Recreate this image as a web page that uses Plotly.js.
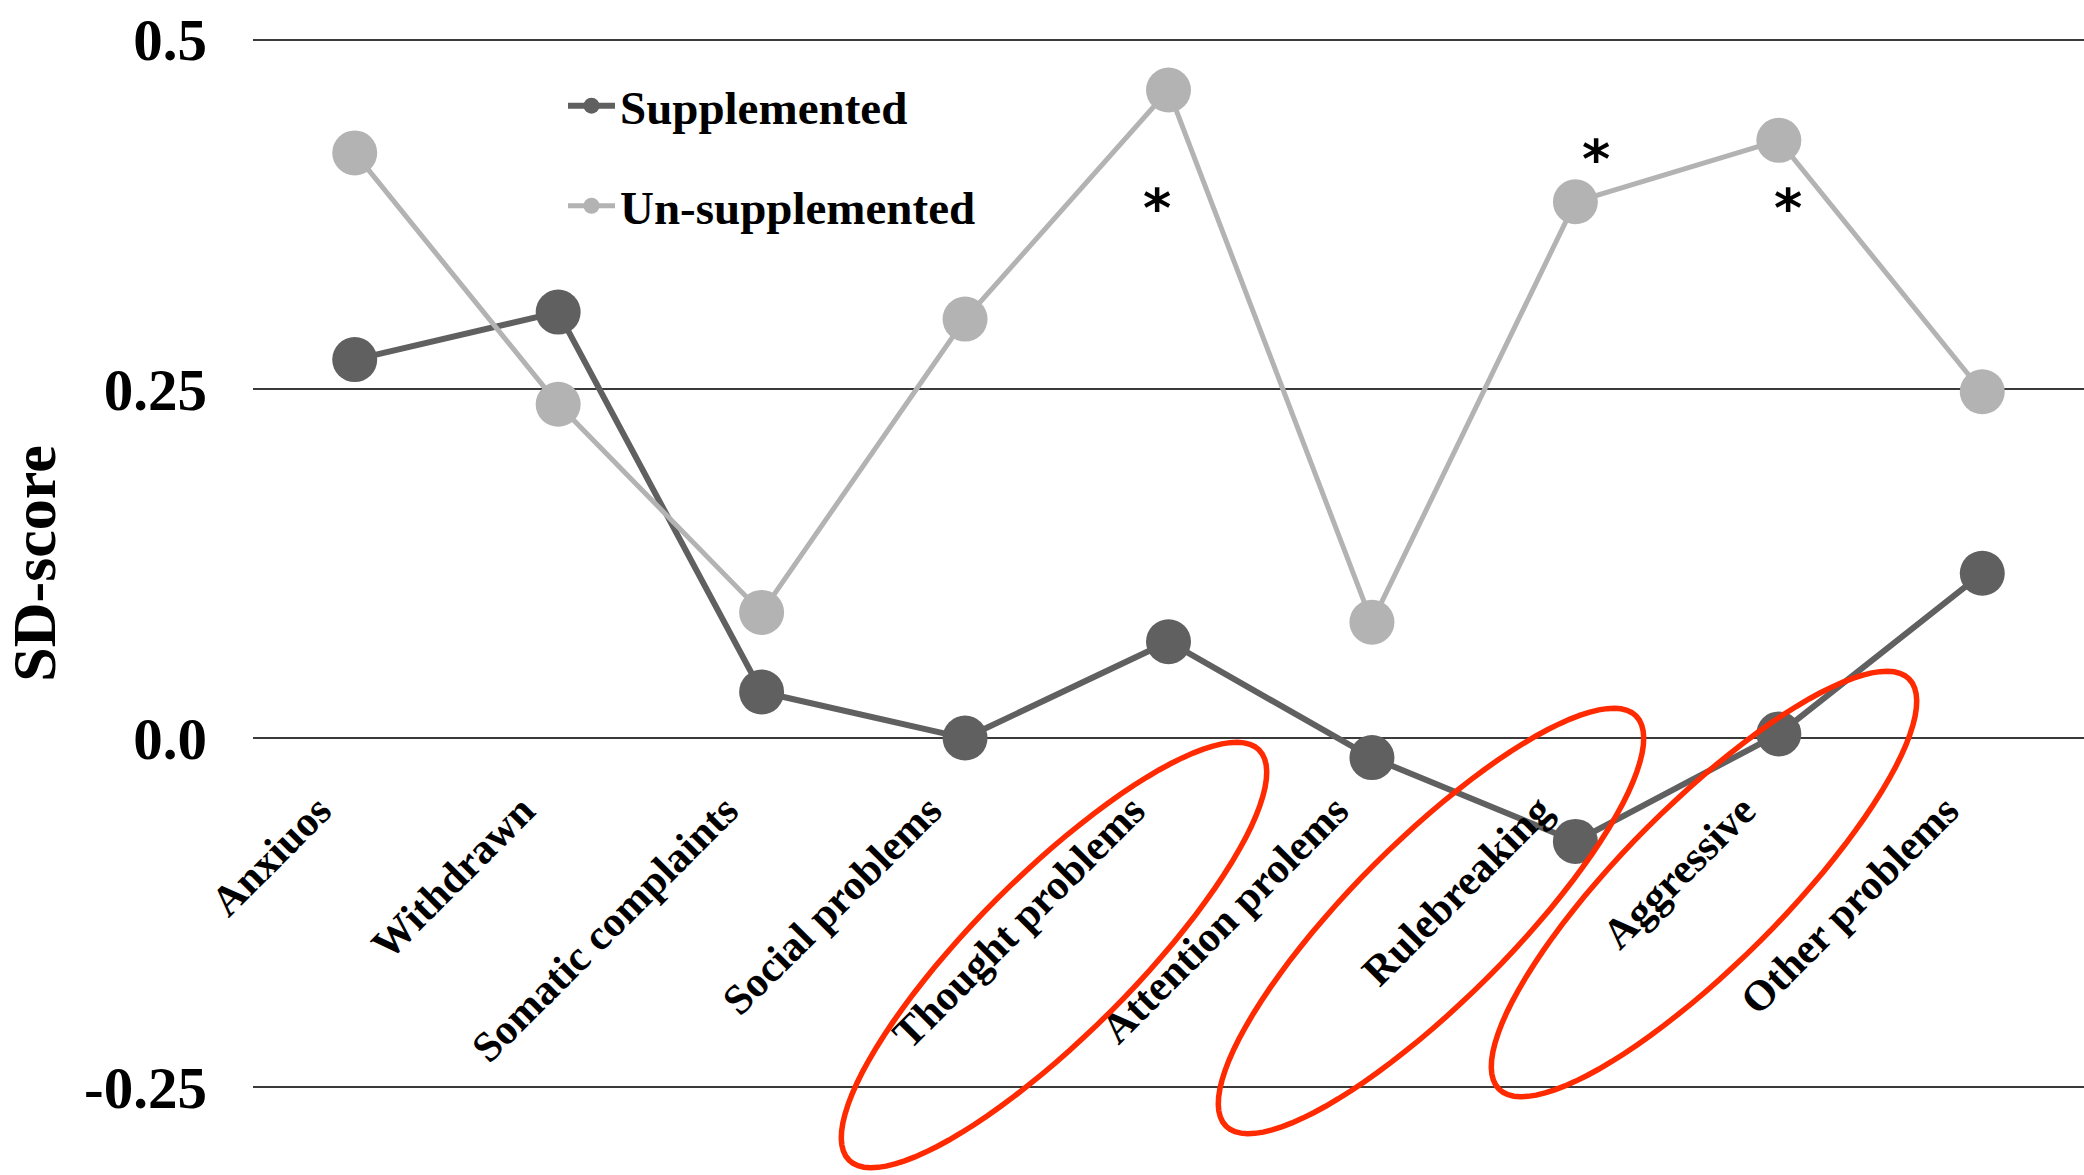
<!DOCTYPE html>
<html><head><meta charset="utf-8">
<script src="https://cdn.plot.ly/plotly-3.0.1.min.js"></script>
<style>html,body{margin:0;padding:0;background:#fff}#chart{width:2084px;height:1175px}</style>
</head><body><div id="chart"></div>
<script>
// ---- data ----
const categories = ["Anxiuos","Withdrawn","Somatic complaints","Social problems","Thought problems","Attention prolems","Rulebreaking","Aggressive","Other problems"];
const supplemented   = [0.271, 0.305, 0.033, 0.000, 0.069, -0.014, -0.074, 0.003, 0.118];
const unsupplemented = [0.419, 0.239, 0.090, 0.300, 0.464,  0.083,  0.384, 0.428, 0.248];
const yTickVals = [-0.25, 0, 0.25, 0.5];
const yTickText = ["-0.25", "0.0", "0.25", "0.5"];
const sigCategories = ["Thought problems", "Rulebreaking", "Aggressive"];
const sigLabels = ["*", "*", "*"];

// ---- layout / style ----
const W = 2084, H = 1175;
const M = {l: 253, r: 0, t: 37, b: 85};
const PW = W - M.l - M.r, PH = H - M.t - M.b;
const yRange = [-0.252, 0.502];
const FONT = "Liberation Serif, Times New Roman, serif";
const DARK = "#606060", LIGHT = "#b3b3b3", GRID = "#3a3a3a", RED = "#ff2a00";

// asterisk placement (style: pixel shift along x, height in value units)
const sigPlacement = [{dx: -12, y: 0.379}, {dx: 21, y: 0.414}, {dx: 9, y: 0.379}];
// hand-drawn highlight ellipses (pixel centre, semi axes, angle)
const ellipses = [
  {cx: 1054, cy: 955, a: 290, b: 80, deg: 45},
  {cx: 1431, cy: 921, a: 290, b: 80, deg: 45},
  {cx: 1704, cy: 884, a: 290, b: 80, deg: 45}
];
function ellipsePath(e) {
  const th = e.deg * Math.PI / 180, pts = [];
  for (let i = 0; i <= 96; i++) {
    const t = i / 96 * 2 * Math.PI;
    const ex = e.a * Math.cos(t), ey = e.b * Math.sin(t);
    const px = e.cx + ex * Math.cos(th) + ey * Math.sin(th);
    const py = e.cy - ex * Math.sin(th) + ey * Math.cos(th);
    pts.push(((px - M.l) / PW).toFixed(5) + "," + ((M.t + PH - py) / PH).toFixed(5));
  }
  return "M" + pts.join("L") + "Z";
}

const traces = [
  {x: categories, y: supplemented, name: "Supplemented", type: "scatter", mode: "lines+markers",
   legendgroup: "a", line: {color: DARK, width: 6}, marker: {color: DARK, size: 45}},
  {x: categories, y: unsupplemented, name: "Un-supplemented", type: "scatter", mode: "lines+markers",
   legendgroup: "b", line: {color: LIGHT, width: 5}, marker: {color: LIGHT, size: 45}}
];

const annotations = sigCategories.map((c, i) => ({
  x: categories.indexOf(c), y: sigPlacement[i].y, xref: "x", yref: "y",
  xshift: sigPlacement[i].dx, text: sigLabels[i], showarrow: false,
  font: {family: "DejaVu Sans, sans-serif", size: 54, color: "#000", weight: "bold"},
  xanchor: "center", yanchor: "middle"
}));

const shapes = ellipses.map(e => ({
  type: "path", xref: "paper", yref: "paper", path: ellipsePath(e),
  line: {color: RED, width: 5.5}, fillcolor: "rgba(0,0,0,0)", layer: "above"
}));

const layout = {
  width: W, height: H, margin: M,
  paper_bgcolor: "#fff", plot_bgcolor: "#fff",
  font: {family: FONT, color: "#000"},
  showlegend: true,
  legend: {x: (563 - M.l) / PW, y: 0.970, xanchor: "left", yanchor: "top",
           font: {family: FONT, size: 47, color: "#000", weight: "bold"},
           bgcolor: "rgba(0,0,0,0)", borderwidth: 0, itemwidth: 47,
           tracegroupgap: 36},
  xaxis: {type: "category", range: [-0.5, categories.length - 0.5],
          anchor: "free", position: (0 - yRange[0]) / (yRange[1] - yRange[0]),
          showgrid: false, zeroline: false, showline: false, ticks: "",
          tickangle: -45, ticklabelstandoff: 38, ticklabelshift: -36,
          tickfont: {family: FONT, size: 42.5, color: "#000", weight: "bold"},
          fixedrange: true},
  yaxis: {range: yRange, tickvals: yTickVals, ticktext: yTickText,
          showgrid: true, gridcolor: GRID, gridwidth: 2, zeroline: false, showline: false,
          ticks: "", ticklabelstandoff: 45,
          tickfont: {family: FONT, size: 59, color: "#000", weight: "bold"},
          title: {text: "SD-score", standoff: 20, font: {family: FONT, size: 62, color: "#000", weight: "bold"}},
          fixedrange: true},
  annotations: annotations,
  shapes: shapes
};

Plotly.newPlot("chart", traces, layout, {displayModeBar: false, staticPlot: true});
</script>
</body></html>
